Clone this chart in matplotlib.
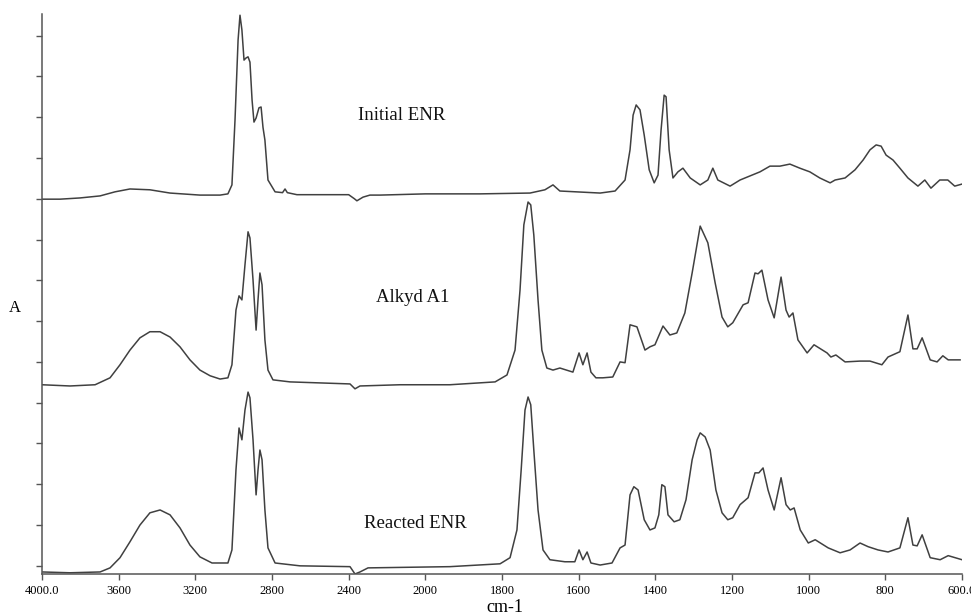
import numpy as np
import matplotlib
matplotlib.use("Agg")
import matplotlib.pyplot as plt

# ---------------- data (wavenumber cm-1, absorbance in stacked units) ----------------
enr_wn = [4000, 3906, 3802, 3697, 3619, 3541, 3437, 3332, 3176, 3071, 3030,
          3009, 2993, 2977, 2967, 2957, 2946, 2936, 2925, 2915, 2904, 2894, 2883,
          2868, 2857, 2847, 2837, 2821, 2784, 2745, 2732, 2720, 2670, 2400, 2370,
          2357, 2325, 2289, 2236, 2000, 1857, 1727, 1688, 1667, 1649, 1544, 1505,
          1479, 1466, 1458, 1450, 1440, 1429, 1416, 1403, 1393, 1385, 1377, 1372,
          1364, 1354, 1341, 1328, 1309, 1283, 1263, 1250, 1237, 1205, 1179, 1153,
          1127, 1101, 1075, 1049, 1023, 997, 971, 944, 931, 905, 879, 858, 840,
          824, 811, 798, 780, 762, 741, 715, 697, 681, 658, 637, 619, 600]
enr_a = [8.99, 8.99, 9.02, 9.07, 9.17, 9.24, 9.22, 9.14, 9.09, 9.09, 9.12,
         9.34, 10.93, 12.89, 13.50, 13.14, 12.40, 12.45, 12.48, 12.35, 11.42, 10.88, 10.98,
         11.23, 11.25, 10.75, 10.44, 9.46, 9.17, 9.15, 9.24, 9.15, 9.10, 9.10, 9.00,
         8.95, 9.04, 9.09, 9.09, 9.12, 9.12, 9.14, 9.22, 9.34, 9.19, 9.14, 9.19,
         9.46, 10.20, 11.05, 11.30, 11.18, 10.56, 9.71, 9.39, 9.58, 10.69, 11.54, 11.50,
         10.20, 9.51, 9.66, 9.75, 9.51, 9.34, 9.46, 9.75, 9.46, 9.31, 9.46, 9.56,
         9.66, 9.80, 9.80, 9.85, 9.75, 9.66, 9.51, 9.39, 9.46, 9.51, 9.71, 9.95, 10.20,
         10.32, 10.29, 10.07, 9.95, 9.75, 9.51, 9.31, 9.46, 9.26, 9.46, 9.46, 9.31, 9.36]

alkyd_wn = [4000, 3854, 3723, 3645, 3593, 3541, 3489, 3437, 3384, 3332, 3280,
            3228, 3176, 3123, 3071, 3030, 3009, 2988, 2972, 2957, 2941, 2925, 2915,
            2899, 2883, 2873, 2863, 2852, 2837, 2821, 2795, 2706, 2393, 2367, 2341,
            2132, 1936, 1818, 1787, 1766, 1753, 1743, 1732, 1725, 1717, 1706, 1696,
            1683, 1667, 1649, 1615, 1599, 1589, 1578, 1568, 1555, 1537, 1511, 1492,
            1479, 1466, 1448, 1427, 1414, 1401, 1380, 1362, 1344, 1323, 1304, 1283,
            1263, 1244, 1226, 1211, 1198, 1171, 1158, 1140, 1132, 1122, 1106, 1090,
            1072, 1059, 1051, 1041, 1028, 1004, 986, 952, 942, 929, 905, 866, 840,
            809, 793, 762, 741, 728, 717, 704, 683, 665, 650, 636, 605]
alkyd_a = [4.44, 4.41, 4.44, 4.61, 4.93, 5.29, 5.59, 5.74, 5.74, 5.61, 5.37,
           5.05, 4.80, 4.66, 4.58, 4.61, 4.93, 6.27, 6.62, 6.52, 7.38, 8.19, 8.04,
           7.01, 5.78, 6.52, 7.18, 6.89, 5.54, 4.80, 4.56, 4.51, 4.46, 4.34, 4.41,
           4.44, 4.44, 4.51, 4.68, 5.29, 6.76, 8.36, 8.92, 8.85, 8.11, 6.52, 5.29,
           4.85, 4.80, 4.85, 4.75, 5.22, 4.93, 5.22, 4.75, 4.61, 4.61, 4.63, 5.00,
           4.98, 5.91, 5.86, 5.29, 5.37, 5.42, 5.88, 5.66, 5.71, 6.20, 7.18, 8.33,
           7.92, 6.94, 6.10, 5.86, 5.96, 6.40, 6.45, 7.18, 7.16, 7.25, 6.52, 6.08,
           7.08, 6.27, 6.10, 6.20, 5.54, 5.22, 5.42, 5.22, 5.12, 5.17, 5.00, 5.02, 5.02,
           4.93, 5.12, 5.25, 6.15, 5.32, 5.32, 5.59, 5.05, 5.00, 5.15, 5.05, 5.05]

reacted_wn = [4000, 3854, 3697, 3645, 3593, 3541, 3489, 3437, 3384, 3332, 3280,
              3228, 3176, 3113, 3030, 3009, 2988, 2972, 2957, 2941, 2925, 2915, 2899,
              2883, 2873, 2863, 2852, 2837, 2821, 2784, 2654, 2393, 2367, 2341, 2299,
              1936, 1805, 1779, 1761, 1750, 1740, 1732, 1725, 1717, 1706, 1693, 1675,
              1636, 1610, 1599, 1589, 1578, 1568, 1544, 1513, 1492, 1479, 1466, 1456,
              1445, 1429, 1414, 1401, 1391, 1383, 1375, 1367, 1351, 1336, 1320, 1304,
              1291, 1283, 1270, 1257, 1242, 1226, 1211, 1198, 1179, 1158, 1140, 1130,
              1119, 1106, 1090, 1072, 1059, 1048, 1038, 1022, 1001, 983, 949, 918, 892,
              866, 845, 819, 793, 762, 741, 728, 717, 704, 683, 657, 636, 600]
reacted_a = [-0.15, -0.17, -0.15, -0.05, 0.20, 0.59, 1.00, 1.30, 1.37, 1.25, 0.93,
             0.51, 0.22, 0.07, 0.07, 0.39, 2.35, 3.38, 3.09, 3.82, 4.26, 4.12, 3.09,
             1.74, 2.35, 2.84, 2.60, 1.37, 0.44, 0.07, 0.00, -0.02, -0.20, -0.15, -0.05,
             -0.02, 0.05, 0.20, 0.88, 2.35, 3.82, 4.14, 3.95, 2.84, 1.37, 0.39, 0.15,
             0.10, 0.10, 0.39, 0.15, 0.34, 0.07, 0.02, 0.07, 0.44, 0.51, 1.74, 1.94,
             1.86, 1.13, 0.88, 0.93, 1.25, 1.99, 1.94, 1.25, 1.08, 1.13, 1.62, 2.60,
             3.09, 3.26, 3.16, 2.84, 1.86, 1.30, 1.13, 1.18, 1.50, 1.67, 2.28, 2.28,
             2.40, 1.86, 1.37, 2.16, 1.50, 1.37, 1.42, 0.88, 0.56, 0.64, 0.44, 0.32, 0.39,
             0.56, 0.47, 0.39, 0.34, 0.44, 1.18, 0.51, 0.49, 0.76, 0.20, 0.15, 0.25, 0.15]

series_labels = ["Initial ENR", "Alkyd A1", "Reacted ENR"]
label_wn = [2122, 2064, 2054]
label_a = [11.03, 6.59, 1.03]

xticks = [4000, 3600, 3200, 2800, 2400, 2000, 1800, 1600, 1400, 1200, 1000, 800, 600]
xtick_labels = ["4000.0", "3600", "3200", "2800", "2400", "2000", "1800", "1600",
                "1400", "1200", "1000", "800", "600.0"]
yticks = list(range(0, 14))


# ---------------- piecewise wavenumber axis (scale doubles below 2000) ----------------
def fwd(w):
    w = np.asarray(w, dtype=float)
    return np.where(w <= 2000, (w - 600) / 200.0, 7 + (w - 2000) / 400.0)


def inv(u):
    u = np.asarray(u, dtype=float)
    return np.where(u <= 7, 600 + 200.0 * u, 2000 + 400.0 * (u - 7))


serif = ["Liberation Serif", "DejaVu Serif"]
line_color = "#404040"

fig = plt.figure(figsize=(9.71, 6.16), dpi=100)
ax = fig.add_axes([42 / 971, 42 / 616, 920 / 971, 560 / 616])
ax.set_xscale("function", functions=(fwd, inv))

for wn, a in [(enr_wn, enr_a), (alkyd_wn, alkyd_a), (reacted_wn, reacted_a)]:
    ax.plot(wn, a, color=line_color, lw=1.1, solid_joinstyle="round")

for lab, xw, ya in zip(series_labels, label_wn, label_a):
    ax.text(xw, ya, lab, ha="center", va="center", fontsize=13.5,
            family=serif, color="#111111")

ax.set_xlim(4000, 600)
ax.set_ylim(-0.2, 13.53)
ax.set_xticks(xticks)
ax.set_xticklabels(xtick_labels, family=serif, fontsize=9)
ax.set_yticks(yticks)
ax.set_yticklabels([])
ax.minorticks_off()
ax.tick_params(axis="both", direction="out", length=4, width=1, color="#555555")
ax.tick_params(axis="x", pad=4)

for s in ["top", "right"]:
    ax.spines[s].set_visible(False)
for s in ["left", "bottom"]:
    ax.spines[s].set_color("#555555")
    ax.spines[s].set_linewidth(1.1)

fig.text(505 / 971, 1 - 607 / 616, "cm-1", ha="center", va="center",
         fontsize=13, family=serif)
fig.text(15 / 971, 1 - 308 / 616, "A", ha="center", va="center",
         fontsize=12, family=serif)

fig.savefig("out.png", dpi=100)
